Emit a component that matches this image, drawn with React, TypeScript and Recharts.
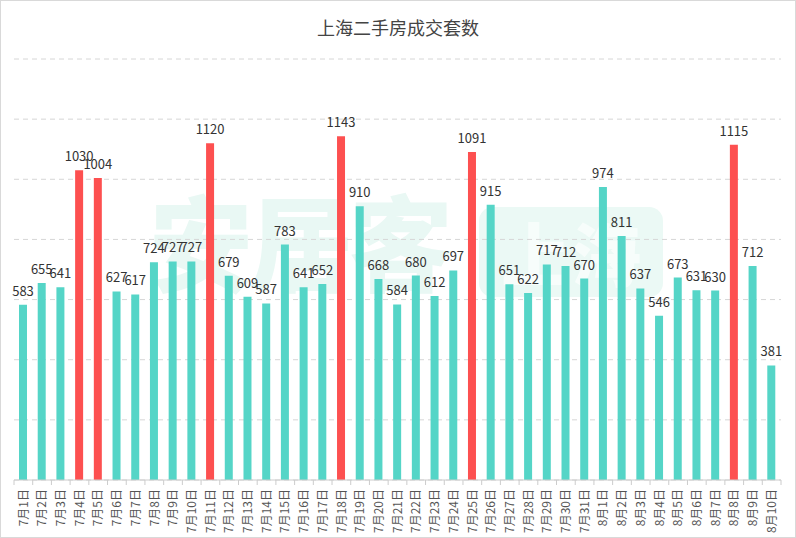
import React from 'react'
import { BarChart, Bar, XAxis, YAxis, CartesianGrid, Cell, LabelList } from 'recharts'

// 上海二手房成交套数, 7月1日 - 8月10日

const days: string[] = [
  '7月1日', '7月2日', '7月3日', '7月4日', '7月5日', '7月6日', '7月7日', '7月8日', '7月9日', '7月10日',
  '7月11日', '7月12日', '7月13日', '7月14日', '7月15日', '7月16日', '7月17日', '7月18日', '7月19日', '7月20日',
  '7月21日', '7月22日', '7月23日', '7月24日', '7月25日', '7月26日', '7月27日', '7月28日', '7月29日', '7月30日',
  '7月31日', '8月1日', '8月2日', '8月3日', '8月4日', '8月5日', '8月6日', '8月7日', '8月8日', '8月9日', '8月10日',
]

const deals: number[] = [
  583, 655, 641, 1030, 1004, 627, 617, 724, 727, 727,
  1120, 679, 609, 587, 783, 641, 652, 1143, 910, 668,
  584, 680, 612, 697, 1091, 915, 651, 622, 717, 712,
  670, 974, 811, 637, 546, 673, 631, 630, 1115, 712, 381,
]

const yTicks: number[] = [0, 200, 400, 600, 800, 1000, 1200, 1400]

const data = days.map((day, i) => ({ day, deals: deals[i] }))

const W = 796
const H = 538
const MARGIN = { top: 59, right: 15, bottom: 0, left: 14 }
const BAND = (W - MARGIN.left - MARGIN.right) / days.length

const TEAL = '#55d5c7'
const RED = '#fd5050'

function DayTick(props: any) {
  const { x, y, payload, index } = props
  const axisY = y - 8
  const left = x - BAND / 2
  return (
    <g>
      <line x1={left} y1={axisY} x2={left} y2={axisY + 5} stroke="#ccc" />
      {index === days.length - 1 && (
        <line x1={x + BAND / 2} y1={axisY} x2={x + BAND / 2} y2={axisY + 5} stroke="#ccc" />
      )}
      <g transform={`translate(${x},${y})`}>
        <text transform="rotate(-90)" textAnchor="end" dy="0.35em" x={-1} fontSize={12} fill="#555">
          {payload.value}
        </text>
      </g>
    </g>
  )
}

export default function App() {
  return (
    <div
      style={{
        position: 'relative',
        width: W,
        height: H,
        boxSizing: 'border-box',
        border: '1px solid #d9d9d9',
        background: '#fff',
        fontFamily: '"Noto Sans CJK SC", "Microsoft YaHei", sans-serif',
        overflow: 'hidden',
      }}
    >
      <style>{'body{margin:0}'}</style>
      <div
        style={{
          position: 'absolute',
          top: 13,
          left: 0,
          width: '100%',
          textAlign: 'center',
          fontSize: 18,
          color: '#444',
          lineHeight: '26px',
        }}
      >
        上海二手房成交套数
      </div>
      {/* faint watermark behind the bars */}
      <div
        style={{
          position: 'absolute',
          left: 148,
          top: 178,
          fontSize: 104,
          fontWeight: 900,
          color: '#e9f8f4',
          lineHeight: '120px',
          letterSpacing: -4,
        }}
      >
        安居客
      </div>
      <div
        style={{
          position: 'absolute',
          left: 478,
          top: 206,
          width: 184,
          height: 90,
          borderRadius: 14,
          background: '#ebf9f5',
          color: '#f7fdfb',
          fontSize: 70,
          fontWeight: 900,
          textAlign: 'center',
          lineHeight: '90px',
        }}
      >
        上海
      </div>
      <div style={{ position: 'absolute', left: -1, top: -1 }}>
        <BarChart width={W} height={H} data={data} margin={MARGIN} barCategoryGap={0}>
          <CartesianGrid vertical={false} stroke="#d6d6d6" strokeDasharray="5 4" />
          <YAxis hide domain={[0, 1400]} ticks={yTicks} />
          <XAxis
            dataKey="day"
            interval={0}
            height={58}
            tick={<DayTick />}
            tickLine={false}
            axisLine={{ stroke: '#ccc' }}
          />
          <Bar dataKey="deals" barSize={8} isAnimationActive={false}>
            {data.map((d) => (
              <Cell key={d.day} fill={d.deals > 1000 ? RED : TEAL} />
            ))}
            <LabelList dataKey="deals" position="top" offset={9} fontSize={13} fill="#333" />
          </Bar>
        </BarChart>
      </div>
    </div>
  )
}
